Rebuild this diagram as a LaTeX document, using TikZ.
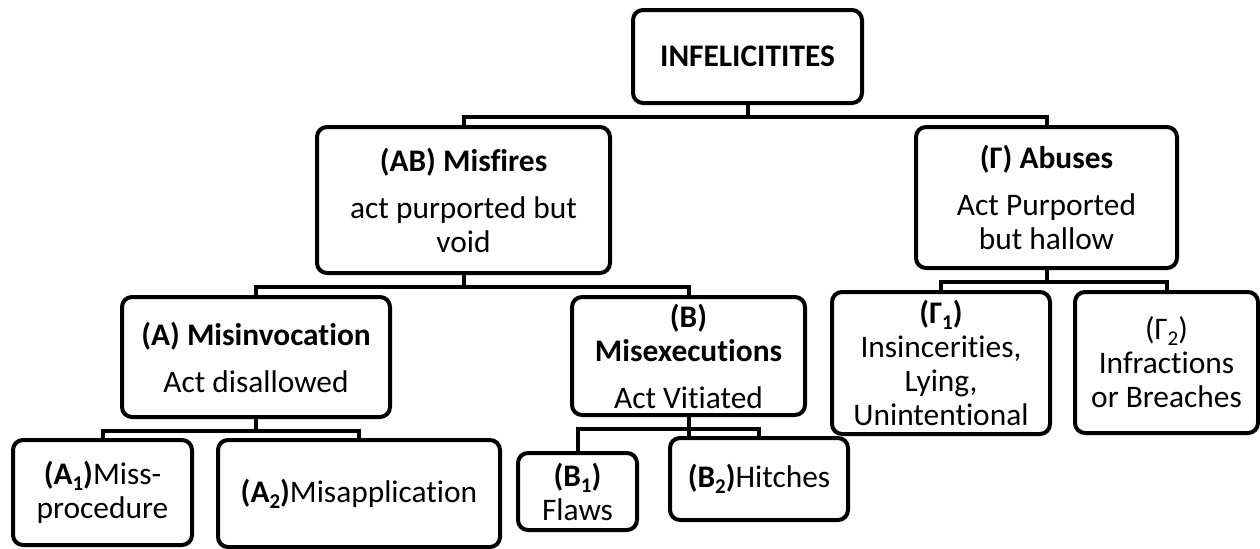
\documentclass[tikz,border=0pt]{standalone}
\usepackage{fontspec}
\setmainfont{Carlito}[Ligatures=NoCommon]
\newcommand{\lowidx}[1]{\raisebox{-0.4ex}{\fontsize{10.5}{10}\selectfont #1}}

\begin{document}
\begin{tikzpicture}[x=0.5pt,y=-0.5pt,
  catbox/.style={draw,line width=2pt,rounded corners=5pt,align=center,inner sep=0pt,font=\fontsize{15.7}{17}\selectfont},
  link/.style={line width=2pt}]
  \useasboundingbox (0,0) rectangle (1260,548);
  % top level
  \node[catbox,minimum width=114.5pt,minimum height=46.5pt] (root) at (747.5,56.5) {\textbf{INFELICITITES}};
  % second level
  \node[catbox,minimum width=146.5pt,minimum height=73pt] (misfire) at (463.5,200) {\textbf{(AB) Misfires}\\[6.5pt]act purported but\\void};
  \node[catbox,minimum width=130.5pt,minimum height=70.5pt] (abuse) at (1046.5,197.5) {\textbf{(Γ) Abuses}\\[6.5pt]Act Purported\\but hallow};
  % third level
  \node[catbox,minimum width=134pt,minimum height=60pt] (misinv) at (256,357) {\textbf{(A) Misinvocation}\\[6.5pt]Act disallowed};
  \node[catbox,minimum width=116.5pt,minimum height=59pt] (misexec) at (688.5,356) {\textbf{(B)}\\\textbf{Misexecutions}\\[6.5pt]Act Vitiated};
  \node[catbox,minimum width=109pt,minimum height=71pt] (insinc) at (941,363) {\textbf{(Γ\lowidx{1})}\\Insincerities,\\Lying,\\Unintentional};
  \node[catbox,minimum width=91.5pt,minimum height=70.5pt] (infract) at (1166.5,362.5) {(Γ\lowidx{2})\\Infractions\\or Breaches};
  % bottom level
  \node[catbox,minimum width=89.5pt,minimum height=52.5pt] (missproc) at (102.5,492.5) {\textbf{(A\lowidx{1})}Miss-\\procedure};
  \node[catbox,minimum width=141pt,minimum height=53.5pt] (misappl) at (359,493.5) {\textbf{(A\lowidx{2})}Misapplication};
  \node[catbox,minimum width=59.5pt,minimum height=38.5pt] (flaws) at (577.5,491.5) {\textbf{(B\lowidx{1})}\\Flaws};
  \node[catbox,minimum width=89pt,minimum height=41pt] (hitches) at (759,479) {\textbf{(B\lowidx{2})}Hitches};
  % connectors
  \foreach \p/\c in {root/misfire,root/abuse,misfire/misinv,misfire/misexec,misinv/missproc,misinv/misappl,misexec/flaws,misexec/hitches,abuse/insinc,abuse/infract}
    { \draw[link] (\p.south) -- ++(0,12) -| (\c.north); }
  \draw[link] (misexec.south) -- (misexec.south |- hitches.north);
\end{tikzpicture}
\end{document}
